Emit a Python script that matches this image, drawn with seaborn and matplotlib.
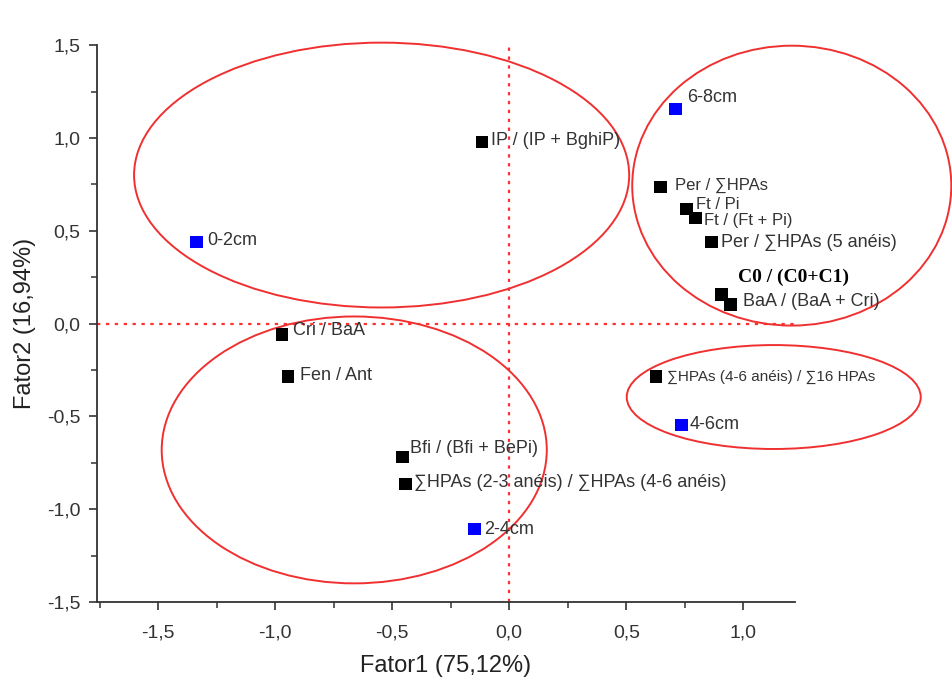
import matplotlib
matplotlib.use("Agg")
import matplotlib.pyplot as plt
from matplotlib.patches import Ellipse
from matplotlib.ticker import FuncFormatter, MultipleLocator
import numpy as np
import pandas as pd
import seaborn as sns

# Scores of the ratios (black) and of the sediment layers (blue) on the first two factors
labels = [
    "0-2cm", "IP / (IP + BghiP)", "6-8cm", "Per / \u2211HPAs", "Ft / Pi",
    "Ft / (Ft + Pi)", "Per / \u2211HPAs (5 anéis)", "C0 / (C0+C1)",
    "BaA / (BaA + Cri)", "\u2211HPAs (4-6 anéis) / \u221116 HPAs", "4-6cm",
    "Cri / BaA", "Fen / Ant", "Bfi / (Bfi + BePi)",
    "\u2211HPAs (2-3 anéis) / \u2211HPAs (4-6 anéis)", "2-4cm",
]
fator1 = [-1.336, -0.115, 0.711, 0.647, 0.757, 0.796, 0.864, 0.906,
          0.945, 0.626, 0.736, -0.970, -0.945, -0.455, -0.443, -0.149]
fator2 = [0.438, 0.978, 1.157, 0.735, 0.616, 0.568, 0.438, 0.157,
          0.103, -0.286, -0.546, -0.059, -0.286, -0.719, -0.865, -1.108]
grupo = ["camada", "razão", "camada", "razão", "razão", "razão", "razão", "razão",
         "razão", "razão", "camada", "razão", "razão", "razão", "razão", "camada"]

# Groupings drawn as ellipses: centre x, centre y, width, height
grupos_elipse = [
    (-0.545, 0.800, 2.115, 1.427),
    (1.207, 0.743, 1.363, 1.508),
    (-0.662, -0.681, 1.645, 1.438),
    (1.130, -0.396, 1.256, 0.560),
]

df = pd.DataFrame({"Fator1": fator1, "Fator2": fator2, "grupo": grupo, "rotulo": labels})

sns.set_style("ticks")
plt.rcParams["font.family"] = ["Liberation Sans", "DejaVu Sans"]

fig = plt.figure(figsize=(9.53, 6.84), dpi=100)
ax = fig.add_axes([0.102, 0.120, 0.732, 0.814])

# reference lines through the origin
ax.axhline(0, color="#ff3030", lw=1.6, ls=(0, (1.5, 2.5)), zorder=1)
ax.axvline(0, color="#ff3030", lw=1.6, ls=(0, (1.5, 2.5)), zorder=1)

for cx, cy, w, h in grupos_elipse:
    ax.add_patch(Ellipse((cx, cy), w, h, fill=False, edgecolor="#f03030",
                         lw=1.4, clip_on=False, zorder=2))

sns.scatterplot(data=df, x="Fator1", y="Fator2", hue="grupo",
                palette={"razão": "black", "camada": "#0000ff"},
                marker="s", s=80, linewidth=0, legend=False, ax=ax, zorder=3)

# label offsets (points) from each marker
desloc = {
    "0-2cm": (8, 1), "IP / (IP + BghiP)": (6, 1), "6-8cm": (8, 8),
    "Per / \u2211HPAs": (10, 1.5), "Ft / Pi": (7, 3.5), "Ft / (Ft + Pi)": (6, -1.5),
    "Per / \u2211HPAs (5 anéis)": (7, 0), "C0 / (C0+C1)": (12, 12),
    "BaA / (BaA + Cri)": (9, 2), "\u2211HPAs (4-6 anéis) / \u221116 HPAs": (8, 0),
    "4-6cm": (6, 0), "Cri / BaA": (8, 3), "Fen / Ant": (9, 1),
    "Bfi / (Bfi + BePi)": (5, 6), "\u2211HPAs (2-3 anéis) / \u2211HPAs (4-6 anéis)": (6, 1),
    "2-4cm": (7, 0),
}
apertados = {"Per / \u2211HPAs", "Ft / Pi", "Ft / (Ft + Pi)"}
for _, r in df.iterrows():
    dx, dy = desloc[r["rotulo"]]
    kw = dict(fontsize=13, color="#333333")
    if r["rotulo"] == "C0 / (C0+C1)":
        kw = dict(fontsize=14, color="black", fontweight="bold",
                  family=["Liberation Serif", "DejaVu Serif"])
    elif r["rotulo"].endswith("16 HPAs"):
        kw = dict(fontsize=11, color="#333333")
    elif r["rotulo"] in apertados:
        kw = dict(fontsize=12, color="#333333")
    ax.annotate(r["rotulo"], (r["Fator1"], r["Fator2"]), xytext=(dx, dy),
                textcoords="offset points", ha="left", va="center", zorder=4, **kw)

ax.set_xlim(-1.76, 1.22)
ax.set_ylim(-1.5, 1.5)
ax.xaxis.set_major_locator(MultipleLocator(0.5))
ax.xaxis.set_minor_locator(MultipleLocator(0.25))
ax.yaxis.set_major_locator(MultipleLocator(0.5))
ax.yaxis.set_minor_locator(MultipleLocator(0.25))
virgula = FuncFormatter(lambda v, _: f"{v:.1f}".replace(".", ","))
ax.xaxis.set_major_formatter(virgula)
ax.yaxis.set_major_formatter(virgula)
ax.set_xticks([-1.5, -1.0, -0.5, 0.0, 0.5, 1.0])

sns.despine(ax=ax)
for s in ("left", "bottom"):
    ax.spines[s].set_color("#333333")
    ax.spines[s].set_linewidth(1.3)
ax.tick_params(which="major", direction="out", length=6, width=1.2, color="#333333",
               labelsize=14, labelcolor="#333333")
ax.tick_params(axis="x", which="major", pad=10)
ax.tick_params(axis="y", which="major", pad=6)
ax.tick_params(which="minor", direction="out", length=4, width=1.1, color="#333333")

ax.set_xlabel("Fator1 (75,12%)", fontsize=17, color="#222222", labelpad=10)
ax.set_ylabel("Fator2 (16,94%)", fontsize=17, color="#222222", labelpad=8)

fig.savefig("out.png", dpi=100)
